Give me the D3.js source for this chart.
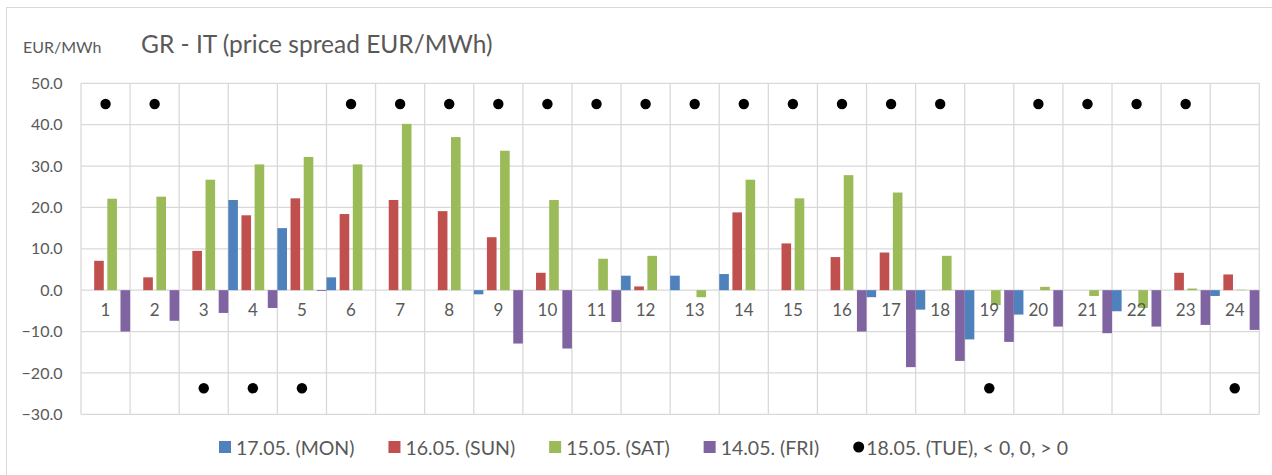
<!DOCTYPE html>
<html>
<head>
<meta charset="utf-8">
<script src="https://cdn.jsdelivr.net/npm/d3@7"></script>
<style>
  body { margin: 0; background: #fff; }
  svg { display: block; font-family: Lato, "Open Sans", sans-serif; }
</style>
</head>
<body>
<script>
// hours 1..24
var hours = d3.range(1, 25).map(String);

// price spread per hour, EUR/MWh
var mon17 = [0, 0, 0, 21.8, 15.0, 3.1, 0, 0, -1.0, 0, 0, 3.5, 3.5, 3.9, 0, 0, -1.7, -4.7, -11.9, -5.9, 0, -5.1, 0, -1.4];
var sun16 = [7.1, 3.1, 9.5, 18.1, 22.2, 18.4, 21.8, 19.1, 12.8, 4.2, 0, 0.9, 0, 18.8, 11.3, 8.0, 9.1, 0, 0, 0, 0, 0, 4.2, 3.8];
var sat15 = [22.1, 22.6, 26.7, 30.4, 32.2, 30.4, 40.2, 37.0, 33.7, 21.8, 7.6, 8.3, -1.7, 26.7, 22.2, 27.8, 23.6, 8.3, -3.6, 0.8, -1.4, -4.3, 0.4, 0.1];
var fri14 = [-10.0, -7.4, -5.5, -4.3, -0.2, 0, 0, 0, -12.9, -14.1, -7.7, 0, 0, 0, 0, -10.0, -18.6, -17.1, -12.5, -8.8, -10.4, -8.8, -8.4, -9.6];
// tuesday marker: sign of the spread shown as a dot high or low
var tue18 = [45, 45, -23.7, -23.7, -23.7, 45, 45, 45, 45, 45, 45, 45, 45, 45, 45, 45, 45, 45, -23.7, 45, 45, 45, 45, -23.7];

var seriesNames = ["17.05. (MON)", "16.05. (SUN)", "15.05. (SAT)", "14.05. (FRI)"];
var dotName = "18.05. (TUE), < 0, 0, > 0";
var yTicks = [-30, -20, -10, 0, 10, 20, 30, 40, 50];

var colors = ["#4f81bd", "#c0504d", "#9bbb59", "#8064a2"];
var series = [mon17, sun16, sat15, fri14];

var W = 1272, H = 475;
var svg = d3.select("body").append("svg")
    .attr("width", W)
    .attr("height", H);

// outer chart border (only left/top visible in the crop)
svg.append("rect")
    .attr("x", 6.5).attr("y", 7.5)
    .attr("width", W + 20).attr("height", H + 20)
    .attr("fill", "none")
    .attr("stroke", "#d9d9d9");

var plot = { left: 81, right: 1259.3, top: 83.3, bottom: 414.3 };

// scales
var x0 = d3.scaleBand()
    .domain(hours)
    .range([plot.left, plot.right])
    .padding(0);
var x1 = d3.scaleBand()
    .domain(d3.range(4))
    .range([0, x0.bandwidth()])
    .paddingInner(0.27)
    .paddingOuter(0);
var y = d3.scaleLinear()
    .domain([-30, 50])
    .range([plot.bottom, plot.top]);

// grid
var grid = svg.append("g").attr("stroke", "#d9d9d9").attr("stroke-width", 1.3);
grid.selectAll("line.h")
    .data(yTicks)
    .join("line")
    .attr("class", "h")
    .attr("x1", plot.left).attr("x2", plot.right)
    .attr("y1", d => y(d)).attr("y2", d => y(d));
grid.selectAll("line.v")
    .data(hours.concat(["end"]))
    .join("line")
    .attr("class", "v")
    .attr("x1", (d, i) => i < 24 ? x0(d) : plot.right)
    .attr("x2", (d, i) => i < 24 ? x0(d) : plot.right)
    .attr("y1", plot.top).attr("y2", plot.bottom);

// y axis labels
var yAxis = d3.axisLeft(y)
    .tickValues(yTicks)
    .tickFormat(d3.format(".1f"))
    .tickSize(0)
    .tickPadding(0);
svg.append("g")
    .attr("transform", "translate(62.5,0)")
    .call(yAxis)
    .call(g => g.select(".domain").remove())
    .selectAll("text")
    .attr("fill", "#595959")
    .style("font-size", "16px")
    .style("font-family", "Lato, sans-serif");

// bars
var groups = svg.append("g")
    .selectAll("g")
    .data(series)
    .join("g")
    .attr("fill", (d, i) => colors[i]);
groups.each(function (vals, si) {
  d3.select(this).selectAll("rect")
      .data(vals)
      .join("rect")
      .attr("x", (d, i) => x0(hours[i]) + x1(si))
      .attr("width", x1.bandwidth())
      .attr("y", d => y(Math.max(0, d)))
      .attr("height", d => Math.abs(y(d) - y(0)));
});

// category labels
var xAxis = d3.axisBottom(x0).tickSize(0).tickPadding(14);
svg.append("g")
    .attr("transform", `translate(0,${y(0)})`)
    .call(xAxis)
    .call(g => g.select(".domain").remove())
    .selectAll("text")
    .attr("fill", "#595959")
    .style("font-size", "17px")
    .style("font-family", "Lato, sans-serif");

// tuesday dots
svg.append("g")
    .selectAll("circle")
    .data(tue18)
    .join("circle")
    .attr("cx", (d, i) => x0(hours[i]) + x0.bandwidth() / 2)
    .attr("cy", d => y(d))
    .attr("r", 5.2)
    .attr("fill", "#000");

// titles
svg.append("text")
    .attr("x", 23).attr("y", 53)
    .attr("fill", "#595959")
    .style("font-size", "16px")
    .text("EUR/MWh");
svg.append("text")
    .attr("x", 141).attr("y", 53)
    .attr("fill", "#595959")
    .style("font-size", "24.5px")
    .text("GR - IT (price spread EUR/MWh)");

// legend
var legend = svg.append("g").attr("transform", "translate(0,448)");
var items = seriesNames.map((n, i) => ({ name: n, color: colors[i], dot: false }))
    .concat([{ name: dotName, color: "#000", dot: true }]);
var lx = 219;
items.forEach(function (it) {
  var g = legend.append("g").attr("transform", `translate(${lx},0)`);
  if (it.dot) {
    g.append("circle").attr("cx", 5.5).attr("cy", -1).attr("r", 5.5).attr("fill", it.color);
  } else {
    g.append("rect").attr("x", 0).attr("y", -7).attr("width", 12).attr("height", 12).attr("fill", it.color);
  }
  var t = g.append("text")
      .attr("x", it.dot ? 13 : 17)
      .attr("y", 6.5)
      .attr("fill", "#595959")
      .style("font-size", "19.5px")
      .text(it.name);
  lx += (it.dot ? 13 : 17) + t.node().getComputedTextLength() + 34;
});
</script>
</body>
</html>
